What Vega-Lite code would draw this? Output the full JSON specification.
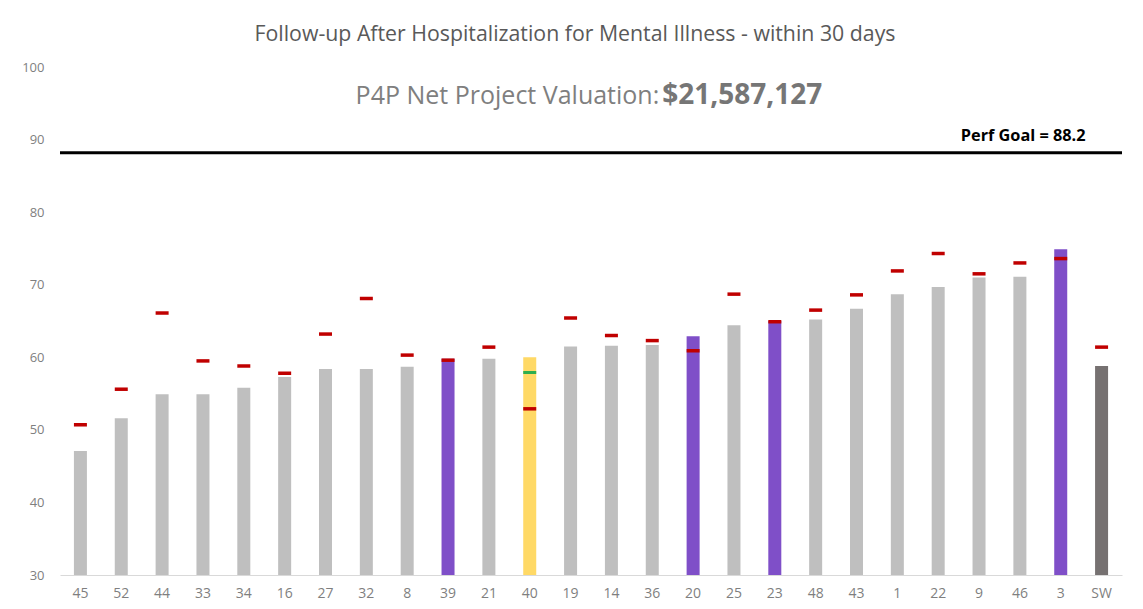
{
  "$schema": "https://vega.github.io/schema/vega-lite/v6.json",
  "width": 1062,
  "height": 508,
  "autosize": {"type": "none"},
  "padding": {"left": 60, "top": 67, "right": 21, "bottom": 34},
  "background": "white",
  "config": {"view": {"stroke": null}, "font": "Open Sans"},
  "title": {
    "text": "Follow-up After Hospitalization for Mental Illness - within 30 days",
    "font": "Open Sans",
    "fontSize": 21.3,
    "fontWeight": "normal",
    "color": "#595959",
    "anchor": "middle",
    "dx": -16,
    "offset": 16
  },
  "datasets": {
    "bars": [
      {"cat": "45", "rate": 47.1, "prior": 50.7, "grp": "other"},
      {"cat": "52", "rate": 51.6, "prior": 55.6, "grp": "other"},
      {"cat": "44", "rate": 54.9, "prior": 66.1, "grp": "other"},
      {"cat": "33", "rate": 54.9, "prior": 59.5, "grp": "other"},
      {"cat": "34", "rate": 55.8, "prior": 58.8, "grp": "other"},
      {"cat": "16", "rate": 57.3, "prior": 57.8, "grp": "other"},
      {"cat": "27", "rate": 58.4, "prior": 63.2, "grp": "other"},
      {"cat": "32", "rate": 58.4, "prior": 68.1, "grp": "other"},
      {"cat": "8", "rate": 58.7, "prior": 60.3, "grp": "other"},
      {"cat": "39", "rate": 59.8, "prior": 59.6, "grp": "highlight"},
      {"cat": "21", "rate": 59.8, "prior": 61.4, "grp": "other"},
      {"cat": "40", "rate": 60.0, "prior": 52.9, "grp": "focus", "alt": 57.9},
      {"cat": "19", "rate": 61.5, "prior": 65.4, "grp": "other"},
      {"cat": "14", "rate": 61.6, "prior": 63.0, "grp": "other"},
      {"cat": "36", "rate": 61.7, "prior": 62.3, "grp": "other"},
      {"cat": "20", "rate": 62.9, "prior": 60.9, "grp": "highlight"},
      {"cat": "25", "rate": 64.4, "prior": 68.7, "grp": "other"},
      {"cat": "23", "rate": 65.0, "prior": 64.9, "grp": "highlight"},
      {"cat": "48", "rate": 65.2, "prior": 66.5, "grp": "other"},
      {"cat": "43", "rate": 66.7, "prior": 68.6, "grp": "other"},
      {"cat": "1", "rate": 68.7, "prior": 71.9, "grp": "other"},
      {"cat": "22", "rate": 69.7, "prior": 74.3, "grp": "other"},
      {"cat": "9", "rate": 71.0, "prior": 71.5, "grp": "other"},
      {"cat": "46", "rate": 71.1, "prior": 73.0, "grp": "other"},
      {"cat": "3", "rate": 74.9, "prior": 73.6, "grp": "highlight"},
      {"cat": "SW", "rate": 58.8, "prior": 61.4, "grp": "state"}
    ],
    "goal": [{"cat": "SW", "goal": 88.2, "label": "Perf Goal = 88.2"}],
    "sub": [
      {"cat": "36", "y": 96, "plain": "P4P Net Project Valuation: ", "bold": "$21,587,127"}
    ]
  },
  "encoding": {
    "x": {
      "field": "cat",
      "type": "nominal",
      "scale": {
        "domain": ["45","52","44","33","34","16","27","32","8","39","21","40","19","14","36","20","25","23","48","43","1","22","9","46","3","SW"],
        "paddingInner": 0,
        "paddingOuter": 0
      },
      "axis": {
        "title": null,
        "labelAngle": 0,
        "ticks": false,
        "domainColor": "#D9D9D9",
        "domainWidth": 1,
        "labelColor": "#7F7F7F",
        "labelFontSize": 14,
        "labelPadding": 11,
        "labelFont": "Open Sans"
      }
    }
  },
  "layer": [
    {
      "data": {"name": "bars"},
      "mark": {"type": "bar", "size": 13},
      "encoding": {
        "y": {
          "field": "rate",
          "type": "quantitative",
          "scale": {"domain": [30, 100], "nice": false, "zero": false},
          "axis": {
            "title": null,
            "values": [30, 40, 50, 60, 70, 80, 90, 100],
            "domain": false,
            "ticks": false,
            "grid": false,
            "labelColor": "#7F7F7F",
            "labelFontSize": 13,
            "labelPadding": 16,
            "labelFont": "Open Sans"
          }
        },
        "y2": {"datum": 30},
        "color": {
          "field": "grp",
          "type": "nominal",
          "scale": {
            "domain": ["other", "highlight", "focus", "state"],
            "range": ["#BFBFBF", "#7F4FC8", "#FFD966", "#767171"]
          },
          "legend": null
        }
      }
    },
    {
      "data": {"name": "bars"},
      "mark": {"type": "tick", "size": 13, "thickness": 3.5, "color": "#C00000", "opacity": 1},
      "encoding": {"y": {"field": "prior", "type": "quantitative"}}
    },
    {
      "data": {"name": "bars"},
      "transform": [{"filter": "isValid(datum.alt)"}],
      "mark": {"type": "tick", "size": 13, "thickness": 3, "color": "#2EAE4E", "opacity": 1},
      "encoding": {"y": {"field": "alt", "type": "quantitative"}}
    },
    {
      "data": {"name": "goal"},
      "mark": {"type": "rule", "color": "#000000", "strokeWidth": 3},
      "encoding": {"x": null, "y": {"field": "goal", "type": "quantitative"}}
    },
    {
      "data": {"name": "goal"},
      "mark": {"type": "text", "align": "right", "baseline": "middle", "dx": -16, "dy": -17, "fontSize": 16.3, "fontWeight": "bold", "color": "#000000", "font": "Open Sans"},
      "encoding": {"y": {"field": "goal", "type": "quantitative"}, "text": {"field": "label"}}
    },
    {
      "data": {"name": "sub"},
      "mark": {"type": "text", "align": "right", "baseline": "middle", "dx": 7, "fontSize": 25, "color": "#7F7F7F", "font": "Open Sans"},
      "encoding": {"y": {"field": "y", "type": "quantitative"}, "text": {"field": "plain"}}
    },
    {
      "data": {"name": "sub"},
      "mark": {"type": "text", "align": "left", "baseline": "middle", "dx": 10, "fontSize": 28, "fontWeight": "bold", "color": "#767676", "font": "Open Sans"},
      "encoding": {"y": {"field": "y", "type": "quantitative"}, "text": {"field": "bold"}}
    }
  ]
}
